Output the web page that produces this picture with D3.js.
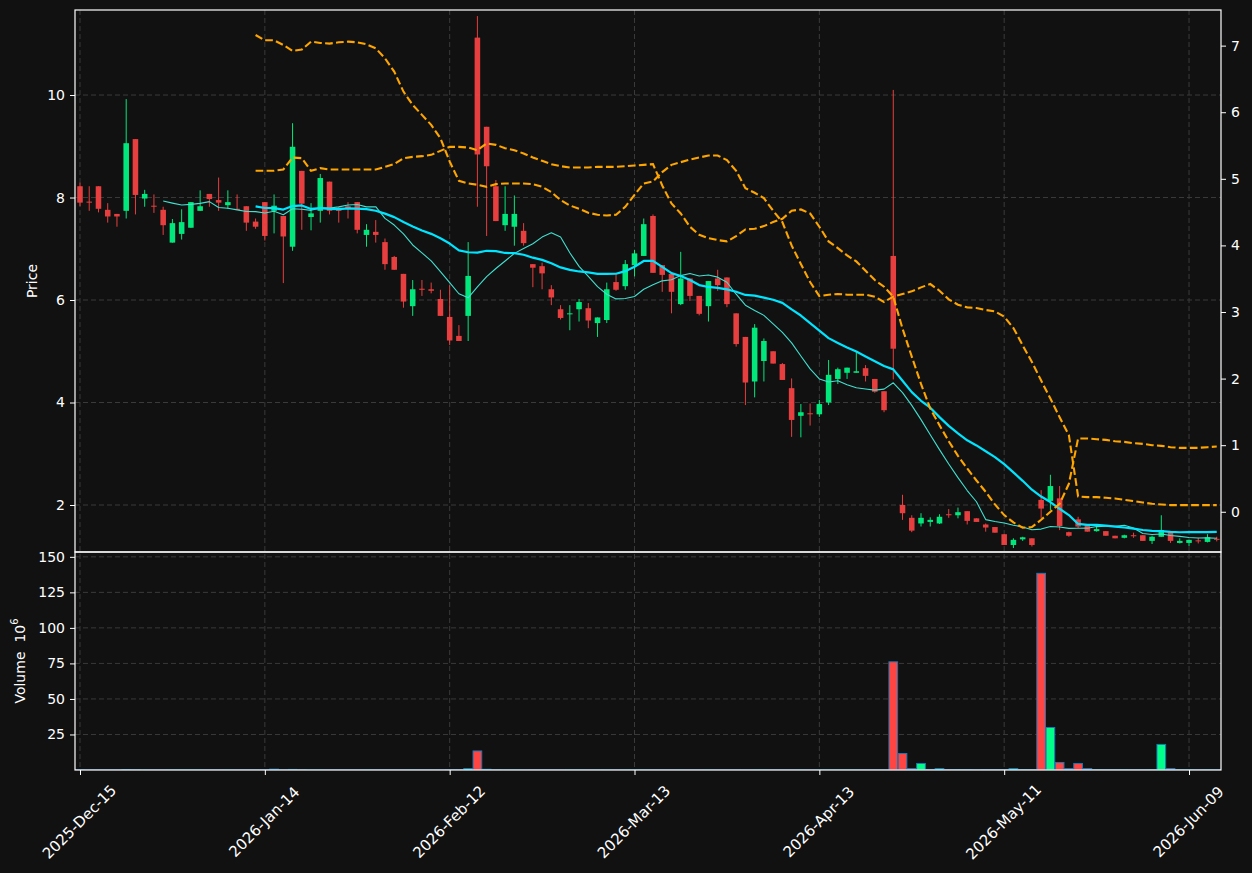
<!DOCTYPE html>
<html>
<head>
<meta charset="utf-8">
<script src="https://cdnjs.cloudflare.com/ajax/libs/d3/7.8.5/d3.min.js"></script>
<style>
  html, body { margin: 0; padding: 0; background: #111111; }
  svg, svg text { font-family: 'DejaVu Sans', sans-serif; }
  .axis text { fill: #ffffff; font-size: 14px; font-family: 'DejaVu Sans', sans-serif; }
  .axis path { display: none; }
  .axis line { stroke: #ffffff; stroke-width: 1; }
</style>
</head>
<body>
<div id="chart"></div>
<script>
// tick labels along the x axis (trading-day index -> date text)
const tickIdx = [0, 20, 40, 60, 80, 100, 120];
const tickLabels = ['2025-Dec-15', '2026-Jan-14', '2026-Feb-12', '2026-Mar-13', '2026-Apr-13', '2026-May-11', '2026-Jun-09'];

// daily candles, one entry per trading day
const opens = [8.22,7.92,8.22,7.76,7.68,7.74,9.14,7.98,7.84,7.76,
  7.12,7.29,7.41,7.74,8.07,7.95,7.85,7.78,7.83,7.53,
  7.91,7.74,7.64,7.04,8.52,7.62,7.74,8.31,7.80,7.83,
  7.91,7.27,7.33,7.13,6.84,6.51,5.88,6.22,6.21,6.02,
  5.67,5.30,5.69,11.12,9.38,8.22,7.46,7.43,7.35,6.70,
  6.66,6.21,5.82,5.73,5.82,5.84,5.55,5.61,6.35,6.27,
  6.68,6.86,7.64,6.68,6.51,5.92,6.42,6.08,5.88,6.42,
  6.44,5.74,5.28,4.41,4.81,5.00,4.75,4.28,3.74,3.79,
  3.77,4.00,4.46,4.58,4.58,4.67,4.46,4.22,6.86,2.00,
  1.75,1.64,1.67,1.64,1.82,1.80,1.88,1.74,1.62,1.57,
  1.43,1.22,1.33,1.35,2.10,2.08,2.13,1.47,1.72,1.62,
  1.49,1.49,1.40,1.36,1.41,1.41,1.30,1.38,1.47,1.26,
  1.26,1.31,1.28,1.34];
const highs = [8.29,8.22,8.22,7.89,7.68,9.92,9.14,8.15,8.06,7.82,
  7.58,7.77,7.91,8.14,8.07,8.39,8.14,8.06,7.83,7.59,
  7.91,8.06,7.64,9.45,8.52,7.89,8.46,8.31,7.82,7.91,
  7.91,7.48,7.56,7.20,6.86,6.51,6.39,6.39,6.34,6.20,
  6.29,5.51,7.13,11.54,9.38,8.34,8.22,8.04,7.50,6.70,
  6.73,6.29,5.90,5.90,6.02,5.94,5.66,6.34,6.50,6.78,
  6.98,7.59,7.67,6.68,6.55,6.94,6.42,6.08,6.37,6.59,
  6.44,5.74,5.28,5.53,5.25,5.00,4.77,4.47,3.97,3.98,
  4.05,4.83,4.68,4.68,4.99,4.73,4.46,4.22,10.10,2.20,
  1.80,1.84,1.76,1.82,1.92,1.95,1.88,1.74,1.64,1.57,
  1.43,1.35,1.38,1.35,2.29,2.59,2.37,1.48,1.77,1.62,
  1.60,1.49,1.40,1.42,1.46,1.41,1.40,1.80,1.47,1.35,
  1.32,1.36,1.43,1.38];
const lows = [7.83,7.74,7.71,7.51,7.43,7.59,7.67,7.82,7.70,7.27,
  7.12,7.18,7.41,7.74,7.82,7.74,7.78,7.76,7.35,7.39,
  7.16,7.30,6.33,6.96,7.37,7.36,7.51,7.67,7.51,7.59,
  7.30,7.04,7.12,6.59,6.59,5.85,5.69,6.08,6.13,5.69,
  5.12,5.20,5.20,7.82,7.25,7.54,7.35,7.06,7.06,6.25,
  6.21,5.90,5.62,5.41,5.58,5.45,5.28,5.55,6.18,6.20,
  6.46,6.86,6.53,6.16,5.74,5.90,5.98,5.70,5.58,6.18,
  5.86,5.09,3.95,4.10,4.41,4.76,4.44,3.33,3.32,3.55,
  3.72,3.95,4.36,4.46,4.58,4.41,4.19,3.81,4.45,1.71,
  1.47,1.58,1.58,1.63,1.75,1.74,1.62,1.67,1.48,1.46,
  1.22,1.16,1.30,1.19,1.74,1.90,1.51,1.38,1.55,1.48,
  1.48,1.40,1.35,1.35,1.36,1.30,1.24,1.38,1.26,1.25,
  1.20,1.25,1.27,1.29];
const closes = [7.90,7.90,7.78,7.63,7.63,9.06,8.05,8.07,7.83,7.46,
  7.50,7.52,7.91,7.83,7.97,7.90,7.91,7.76,7.51,7.43,
  7.25,7.84,7.24,8.99,7.88,7.69,8.38,7.74,7.74,7.78,
  7.37,7.37,7.27,6.70,6.59,5.97,6.21,6.20,6.18,5.69,
  5.21,5.20,6.47,8.84,8.61,7.54,7.68,7.68,7.11,6.63,
  6.52,6.05,5.65,5.74,5.96,5.60,5.66,6.21,6.20,6.70,
  6.91,7.48,6.53,6.49,6.16,6.42,6.08,5.73,6.37,6.29,
  5.92,5.14,4.39,5.46,5.20,4.76,4.44,3.66,3.81,3.77,
  3.97,4.54,4.65,4.68,4.61,4.52,4.21,3.85,5.05,1.84,
  1.50,1.75,1.71,1.77,1.80,1.86,1.69,1.67,1.56,1.46,
  1.22,1.32,1.37,1.22,1.93,2.37,1.59,1.40,1.58,1.48,
  1.53,1.40,1.35,1.41,1.40,1.30,1.38,1.51,1.30,1.30,
  1.32,1.30,1.37,1.33];

// volume in millions
const volumes = [0.2,0.1,0.1,0.1,0.1,0.3,0.2,0.1,0.1,0.1,
  0.1,0.1,0.1,0.1,0.1,0.1,0.1,0.1,0.1,0.1,
  0.2,0.6,0.2,0.4,0.2,0.1,0.1,0.1,0.1,0.1,
  0.1,0.1,0.1,0.1,0.1,0.1,0.1,0.1,0.1,0.1,
  0.2,0.2,1.0,13.4,0.5,0.2,0.1,0.1,0.1,0.1,
  0.1,0.1,0.1,0.1,0.1,0.1,0.1,0.1,0.1,0.1,
  0.1,0.1,0.1,0.1,0.1,0.1,0.1,0.1,0.1,0.1,
  0.1,0.1,0.1,0.1,0.1,0.1,0.1,0.1,0.1,0.1,
  0.1,0.1,0.1,0.1,0.1,0.1,0.1,0.1,76.1,11.6,
  1.0,4.6,0.4,1.0,0.3,0.3,0.3,0.2,0.3,0.3,
  0.3,1.0,0.3,0.3,138.4,29.9,5.3,1.0,4.6,1.0,
  0.2,0.2,0.2,0.2,0.2,0.2,0.2,18.0,1.0,0.2,
  0.2,0.2,0.2,0.2];

// two dashed overlay series on the secondary (right) axis, from day 19
const overlayA = [null,null,null,null,null,null,null,null,null,null,
  null,null,null,null,null,null,null,null,null,7.16,
  7.08,7.08,7.01,6.92,6.94,7.06,7.04,7.03,7.05,7.06,
  7.05,7.02,6.96,6.81,6.61,6.31,6.11,5.96,5.81,5.61,
  5.26,4.97,4.93,4.91,4.88,4.92,4.93,4.93,4.93,4.92,
  4.88,4.80,4.68,4.60,4.55,4.49,4.46,4.45,4.46,4.58,
  4.76,4.93,4.96,5.10,5.21,5.25,5.29,5.32,5.35,5.35,
  5.28,5.12,4.86,4.79,4.71,4.52,4.35,4.00,3.72,3.45,
  3.24,3.26,3.27,3.26,3.26,3.26,3.23,3.15,3.23,3.27,
  3.31,3.37,3.42,3.32,3.19,3.11,3.07,3.06,3.03,3.01,
  2.93,2.76,2.50,2.25,1.97,1.70,1.42,1.15,0.23,0.22,
  0.22,0.21,0.20,0.18,0.16,0.14,0.12,0.11,0.10,0.10,
  0.10,0.10,0.10,0.10];
const overlayB = [null,null,null,null,null,null,null,null,null,null,
  null,null,null,null,null,null,null,null,null,5.12,
  5.12,5.12,5.14,5.32,5.31,5.12,5.16,5.14,5.14,5.14,
  5.14,5.14,5.14,5.18,5.22,5.31,5.33,5.34,5.36,5.42,
  5.48,5.48,5.47,5.43,5.53,5.51,5.46,5.43,5.38,5.32,
  5.27,5.22,5.19,5.17,5.17,5.17,5.18,5.18,5.18,5.19,
  5.20,5.21,5.22,4.90,4.63,4.48,4.28,4.16,4.11,4.08,
  4.06,4.14,4.24,4.25,4.29,4.35,4.40,4.52,4.54,4.48,
  4.28,4.06,3.96,3.85,3.76,3.62,3.48,3.38,3.23,2.75,
  2.33,1.92,1.55,1.30,1.06,0.84,0.65,0.47,0.30,0.11,
  -0.05,-0.16,-0.24,-0.23,-0.12,0.00,0.12,0.42,1.10,1.10,
  1.09,1.08,1.06,1.05,1.03,1.02,1.00,0.99,0.97,0.96,
  0.96,0.96,0.97,0.98];

const maWindows = [10, 20];

// colours
const bg = '#111111';
const upColor = '#00ff88';
const downColor = '#ff4444';
const gridColor = '#3a3a3a';
const font = "'DejaVu Sans', sans-serif";

const W = 1252, H = 873;
const left = 75, right = 1221;
const mainTop = 10, mainBottom = 552, volBottom = 770;

const days = d3.range(opens.length).map(i => ({
  i, o: opens[i], h: highs[i], l: lows[i], c: closes[i], v: volumes[i]
}));

// rolling mean of closes, as the chart's moving-average overlays
function movingAvg(n) {
  return days.map((d, i) => i < n - 1 ? null : d3.mean(closes.slice(i - n + 1, i + 1)));
}

const x = d3.scaleLinear().domain([-0.54, 123.46]).range([left, right]);
const yP = d3.scaleLinear().domain([1.083, 11.659]).range([mainBottom, mainTop]);
const yR = d3.scaleLinear().domain([-0.604, 7.535]).range([mainBottom, mainTop]);
const yV = d3.scaleLinear().domain([0, 153.4]).range([volBottom, mainBottom]);

const step = x(1) - x(0);
const bodyW = step * 0.6;
const barW = step * 0.94;

const svg = d3.select('#chart').append('svg')
  .attr('width', W).attr('height', H);

svg.append('rect').attr('width', W).attr('height', H).attr('fill', bg);

const defs = svg.append('defs');
defs.append('clipPath').attr('id', 'clip-main')
  .append('rect').attr('x', left).attr('y', mainTop)
  .attr('width', right - left).attr('height', mainBottom - mainTop);
defs.append('clipPath').attr('id', 'clip-vol')
  .append('rect').attr('x', left).attr('y', mainBottom)
  .attr('width', right - left).attr('height', volBottom - mainBottom);

// grid
const grid = svg.append('g').attr('stroke', gridColor).attr('stroke-width', 1)
  .attr('stroke-dasharray', '5,3');
tickIdx.forEach(t => {
  grid.append('line').attr('x1', x(t)).attr('x2', x(t)).attr('y1', mainTop).attr('y2', volBottom);
});
[2, 4, 6, 8, 10].forEach(t => {
  grid.append('line').attr('x1', left).attr('x2', right).attr('y1', yP(t)).attr('y2', yP(t));
});
[25, 50, 75, 100, 125, 150].forEach(t => {
  grid.append('line').attr('x1', left).attr('x2', right).attr('y1', yV(t)).attr('y2', yV(t));
});

// candles
const $main = svg.append('g').attr('clip-path', 'url(#clip-main)');
const candle = $main.selectAll('.candle').data(days).enter()
  .append('g').attr('class', 'candle')
  .attr('opacity', 0.9);

candle.append('line')
  .attr('x1', d => x(d.i)).attr('x2', d => x(d.i))
  .attr('y1', d => yP(d.h)).attr('y2', d => yP(d.l))
  .attr('stroke', d => d.c >= d.o ? upColor : downColor)
  .attr('stroke-width', 1);

candle.append('rect')
  .attr('x', d => x(d.i) - bodyW / 2)
  .attr('width', bodyW)
  .attr('y', d => yP(Math.max(d.o, d.c)))
  .attr('height', d => Math.max(1, Math.abs(yP(d.o) - yP(d.c))))
  .attr('fill', d => d.c >= d.o ? upColor : downColor);

// moving averages
const maStyles = [
  { color: '#40e0d0', width: 1.1 },
  { color: '#00e5ff', width: 2.2 }
];
maWindows.forEach((n, k) => {
  const vals = movingAvg(n);
  const line = d3.line()
    .defined(d => d != null)
    .x((d, i) => x(i))
    .y(d => yP(d));
  $main.append('path')
    .datum(vals)
    .attr('d', line)
    .attr('fill', 'none')
    .attr('stroke', maStyles[k].color)
    .attr('stroke-width', maStyles[k].width)
    .attr('stroke-linejoin', 'round');
});

// dashed overlays on the right axis
[overlayA, overlayB].forEach(series => {
  const line = d3.line()
    .defined(d => d != null)
    .x((d, i) => x(i))
    .y(d => yR(d));
  $main.append('path')
    .datum(series)
    .attr('d', line)
    .attr('fill', 'none')
    .attr('stroke', '#ffa500')
    .attr('stroke-width', 2.1)
    .attr('stroke-dasharray', '7.7,3.3');
});

// volume bars
const $vol = svg.append('g').attr('clip-path', 'url(#clip-vol)');
$vol.selectAll('.vbar').data(days).enter()
  .append('rect').attr('class', 'vbar')
  .attr('x', d => x(d.i) - barW / 2)
  .attr('width', barW)
  .attr('y', d => yV(d.v))
  .attr('height', d => yV(0) - yV(d.v))
  .attr('fill', d => d.c >= d.o ? upColor : downColor)
  .attr('stroke', '#1f77b4')
  .attr('stroke-width', 1);

// axes
function styleAxis(g) {
  g.attr('font-family', font).attr('font-size', 14);
}

svg.append('g').attr('class', 'axis')
  .attr('transform', `translate(${left},0)`)
  .call(d3.axisLeft(yP).tickValues([2, 4, 6, 8, 10]).tickSize(5).tickPadding(5))
  .call(styleAxis);

svg.append('g').attr('class', 'axis')
  .attr('transform', `translate(${right},0)`)
  .call(d3.axisRight(yR).tickValues(d3.range(0, 8)).tickSize(5).tickPadding(5))
  .call(styleAxis);

svg.append('g').attr('class', 'axis')
  .attr('transform', `translate(${left},0)`)
  .call(d3.axisLeft(yV).tickValues([25, 50, 75, 100, 125, 150]).tickSize(5).tickPadding(5))
  .call(styleAxis);

const xAxis = svg.append('g').attr('class', 'axis')
  .attr('transform', `translate(0,${volBottom})`)
  .call(d3.axisBottom(x).tickValues(tickIdx).tickSize(5)
    .tickFormat((d, i) => tickLabels[i]))
  .call(styleAxis);
xAxis.selectAll('text')
  .attr('text-anchor', 'middle')
  .attr('dominant-baseline', 'central')
  .attr('y', 0).attr('dy', 0)
  .style('font-size', '15px')
  .attr('transform', 'translate(-1,52) rotate(-45)');

// spines
svg.append('rect').attr('x', left).attr('y', mainTop)
  .attr('width', right - left).attr('height', mainBottom - mainTop)
  .attr('fill', 'none').attr('stroke', '#ffffff').attr('stroke-width', 1.2);
svg.append('rect').attr('x', left).attr('y', mainBottom)
  .attr('width', right - left).attr('height', volBottom - mainBottom)
  .attr('fill', 'none').attr('stroke', '#ffffff').attr('stroke-width', 1.2);

// axis titles
svg.append('text')
  .attr('transform', `translate(32,${(mainTop + mainBottom) / 2}) rotate(-90)`)
  .attr('text-anchor', 'middle').attr('dominant-baseline', 'central')
  .attr('fill', '#ffffff').attr('font-family', font).style('font-size', '14px')
  .text('Price');

const vTitle = svg.append('text')
  .attr('transform', `translate(20,${(mainBottom + volBottom) / 2}) rotate(-90)`)
  .attr('text-anchor', 'middle').attr('dominant-baseline', 'central')
  .attr('fill', '#ffffff').attr('font-family', font).style('font-size', '14px');
vTitle.append('tspan').text('Volume\u00a0\u00a010');
vTitle.append('tspan').attr('dy', -6).style('font-size', '10px').text('6');
</script>
</body>
</html>
